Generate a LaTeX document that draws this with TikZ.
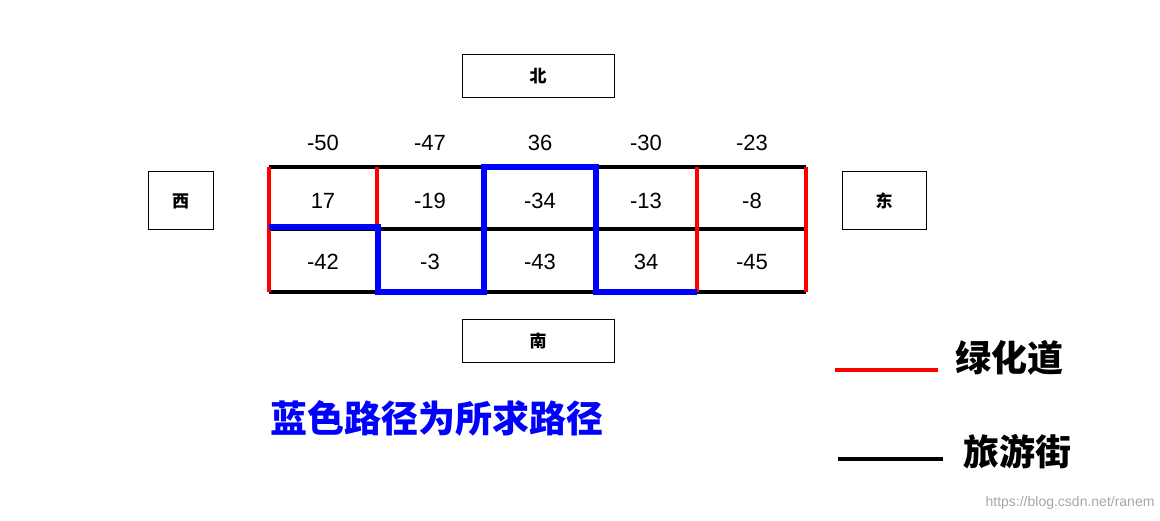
\documentclass[tikz,border=0pt]{standalone}
\usepackage{fontspec}
\setmainfont{Liberation Sans}
\newfontfamily\cjk{Noto Sans CJK SC}
\begin{document}
\begin{tikzpicture}[x=1pt,y=-1pt,
  lab/.style={draw,line width=1pt,minimum width=#1,minimum height=43pt,inner sep=0pt,font=\cjk\bfseries\fontsize{17}{17}\selectfont},
  num/.style={font=\fontsize{22}{22}\selectfont},
  street/.style={line width=3.5pt,black},
  green/.style={line width=3.5pt,red},
  path/.style={line width=5.5pt,blue,line join=miter}]
\useasboundingbox (0,0) rectangle (1160,521);
\node[lab=152pt] (n) at (538,76) {北};
\node[lab=152pt] (s) at (538,341) {南};
\node[lab=65pt,minimum height=58pt] (w) at (180.5,201) {西};
\node[lab=84pt,minimum height=58pt] (e) at (884,201) {东};
\foreach \x [count=\i] in {269,377,484,596,697,806}{
  \coordinate (t\i) at (\x,167); \coordinate (m\i) at (\x,229); \coordinate (b\i) at (\x,292);}
\draw[street] (t1) -- (t6); \draw[street] (m1) -- (m6); \draw[street] (b1) -- (b6);
\draw[green] (t1) -- (b1); \draw[green] (t2) -- (m2); \draw[green] (t5) -- (b5); \draw[green] (t6) -- (b6);
\draw[path] (269,227) -- (378,227) -- (378,292) -- (484,292) -- (484,167) -- (596,167) -- (596,292) -- (697,292);
\foreach \v/\x in {-50/323,-47/430,36/540,-30/646,-23/752}{\node[num] at (\x,143) {\v};}
\foreach \v/\x in {17/323,-19/430,-34/540,-13/646,-8/752}{\node[num] at (\x,201) {\v};}
\foreach \v/\x in {-42/323,-3/430,-43/540,34/646,-45/752}{\node[num] at (\x,262) {\v};}
\coordinate (r1) at (835,370); \coordinate (r2) at (938,370);
\coordinate (k1) at (838,459); \coordinate (k2) at (943,459);
\draw[green] (r1) -- (r2); \draw[street] (k1) -- (k2);
\node[font=\cjk\bfseries\fontsize{36}{36}\selectfont,anchor=west] at (952,358) {绿化道};
\node[font=\cjk\bfseries\fontsize{36}{36}\selectfont,anchor=west] at (960,452) {旅游街};
\node[font=\cjk\bfseries\fontsize{37}{37}\selectfont,text=blue] at (437,418) {蓝色路径为所求路径};
\node[font=\fontsize{14}{14}\selectfont,text=gray!70,anchor=east] at (1158,503) {https://blog.csdn.net/ranem};
\end{tikzpicture}
\end{document}
